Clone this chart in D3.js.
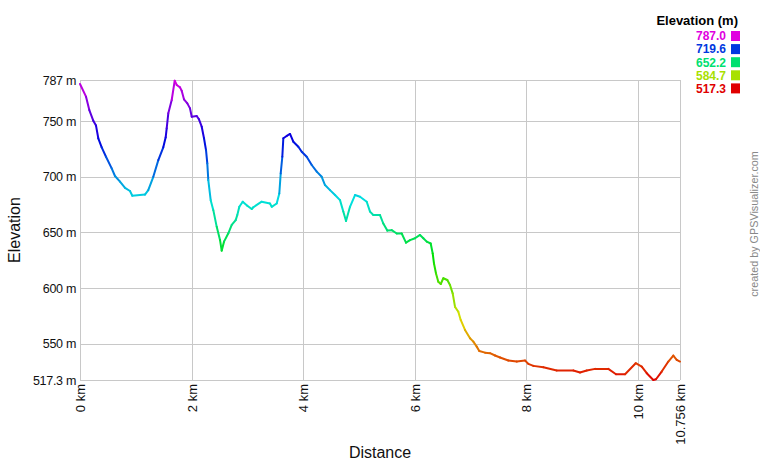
<!DOCTYPE html>
<html><head><meta charset="utf-8">
<script src="https://cdn.jsdelivr.net/npm/d3@7"></script>
<style>
html,body{margin:0;padding:0;background:#fff;}
svg{display:block;font-family:"Liberation Sans",Arial,sans-serif;}
</style></head>
<body>
<svg id="chart" width="760" height="460"></svg>
<script>
// distance (km) and elevation (m)
const distKm = [0,0.108,0.167,0.238,0.287,0.328,0.389,0.466,0.568,0.627,0.717,0.807,0.896,0.938,1.165,1.224,1.314,1.404,1.493,1.536,1.554,1.583,1.644,1.698,1.734,1.793,1.823,1.864,1.924,1.972,2.003,2.092,2.133,2.182,2.223,2.259,2.282,2.300,2.343,2.390,2.451,2.510,2.540,2.582,2.659,2.720,2.791,2.820,2.856,2.917,2.999,3.078,3.107,3.257,3.406,3.437,3.526,3.573,3.598,3.627,3.645,3.706,3.765,3.824,3.914,3.975,4.064,4.154,4.244,4.333,4.392,4.482,4.572,4.661,4.720,4.769,4.840,4.930,5.020,5.140,5.199,5.258,5.378,5.437,5.509,5.588,5.678,5.767,5.844,5.916,6.006,6.095,6.155,6.216,6.287,6.323,6.346,6.382,6.423,6.467,6.513,6.585,6.633,6.682,6.723,6.782,6.825,6.902,6.992,7.051,7.112,7.158,7.261,7.350,7.440,7.530,7.678,7.829,7.978,8.037,8.127,8.306,8.546,8.844,8.964,9.084,9.233,9.471,9.609,9.771,9.962,10.070,10.160,10.278,10.326,10.428,10.547,10.636,10.697,10.756];
const elevM = [783.4,772,760,750.4,746,734.6,726.5,718,707.6,700.7,695.6,690,687.2,683,684,688,700,715,726.5,735.5,743.6,757,769,786.4,782.5,780.4,777.4,769.6,766,761.5,754,754.6,751.6,745,734.6,724,712,697,679,670,655,643.2,633.6,641.7,649.2,656.7,661,665.6,673,677.6,674,671,672.6,677.6,676,673,676,685,703,718,734.6,736.7,738.5,731.5,727,722.5,718,710.6,704.6,700,692.6,688,683.6,679,668.7,660.3,673,683.6,682,677.6,668.7,665.6,665.6,658,651.6,652,649,649,640.8,643,644.7,647.7,644.7,641.7,640,631,622,613,605.7,603.6,608.8,607.2,602.7,595,583,578.7,571.3,562.3,554.8,551.8,547.3,543.4,541.9,541.4,539.3,537.5,534.8,533.9,534.8,531.8,530,528.8,525.8,525.8,524,525.8,527.3,527.3,522.5,522.5,532.4,529.4,523.4,517.3,518,524.9,533.9,539.3,535.4,533.9];

const yTicks = [517.3,550,600,650,700,750,787];
const yTickLabels = ["517.3 m","550 m","600 m","650 m","700 m","750 m","787 m"];
const xTicks = [0,2,4,6,8,10,10.756];
const xTickLabels = ["0 km","2 km","4 km","6 km","8 km","10 km","10.756 km"];
const legendValues = [787.0,719.6,652.2,584.7,517.3];
const legendLabels = ["787.0","719.6","652.2","584.7","517.3"];

const svg = d3.select("#chart");
const L = 80, R = 680, T = 80, B = 380;
const x = d3.scaleLinear().domain([0, 10.756]).range([L, R]);
const y = d3.scaleLinear().domain([517.3, 787]).range([B, T]);
const hue = d3.scaleLinear().domain([517.3, 787]).range([0, 300]);
const colorOf = v => d3.hsl(hue(v), 1, 0.44).formatHex();

// grid
const grid = svg.append("g").attr("stroke", "#c8c8c8").attr("stroke-width", 1).attr("shape-rendering", "crispEdges");
yTicks.forEach(v => grid.append("line").attr("x1", L).attr("x2", R).attr("y1", Math.round(y(v))+0.5).attr("y2", Math.round(y(v))+0.5));
xTicks.forEach(v => grid.append("line").attr("y1", T).attr("y2", B).attr("x1", Math.round(x(v))+0.5).attr("x2", Math.round(x(v))+0.5));

// y axis labels
const yAxis = d3.axisLeft(y).tickValues(yTicks).tickFormat((d,i) => yTickLabels[i]).tickSize(0).tickPadding(4);
const gy = svg.append("g").attr("transform", `translate(${L},0)`).call(yAxis);
gy.select(".domain").remove();
gy.selectAll("text").attr("font-size", "12.5px").attr("fill", "#111").attr("font-family", "'Liberation Sans',Arial,sans-serif").attr("letter-spacing", "-0.3px");

// x axis labels
const xAxis = d3.axisBottom(x).tickValues(xTicks).tickFormat((d,i) => xTickLabels[i]).tickSize(0).tickPadding(0);
const gx = svg.append("g").attr("transform", `translate(0,${B})`).call(xAxis);
gx.select(".domain").remove();
gx.selectAll("text")
  .attr("font-size", "13px").attr("fill", "#111").attr("font-family", "'Liberation Sans',Arial,sans-serif")
  .attr("transform", "rotate(-90)")
  .attr("text-anchor", "end")
  .attr("x", -4).attr("y", 0).attr("dy", "0.35em");

// elevation profile, coloured by elevation
const pts = distKm.map((d,i) => [d, elevM[i]]);
const line = d3.line().x(d => x(d[0])).y(d => y(d[1]));
const prof = svg.append("g").attr("fill", "none").attr("stroke-width", 2).attr("stroke-linecap", "round");
for (let i = 0; i < pts.length - 1; i++) {
  prof.append("path").attr("d", line([pts[i], pts[i+1]])).attr("stroke", colorOf((pts[i][1] + pts[i+1][1]) / 2));
}

// axis titles
svg.append("text").attr("x", 380).attr("y", 458).attr("text-anchor", "middle").attr("font-size", "16px").attr("fill", "#111").text("Distance");
svg.append("text").attr("transform", "translate(20,230) rotate(-90)").attr("text-anchor", "middle").attr("font-size", "16px").attr("fill", "#111").text("Elevation");

// credit
svg.append("text").attr("transform", "translate(758,224) rotate(-90)").attr("text-anchor", "middle").attr("font-size", "10.8px").attr("fill", "#888").text("created by GPSVisualizer.com");

// legend
svg.append("text").attr("x", 738).attr("y", 25).attr("text-anchor", "end").attr("font-size", "13px").attr("font-weight", "bold").attr("fill", "#000").text("Elevation (m)");
const lg = svg.append("g");
legendValues.forEach((v,i) => {
  const cy = 36 + i * 13.1;
  const c = colorOf(v);
  lg.append("text").attr("x", 726).attr("y", cy).attr("dy", "0.36em").attr("text-anchor", "end").attr("font-size", "12px").attr("font-weight", "bold").attr("fill", c).text(legendLabels[i]);
  lg.append("rect").attr("x", 731).attr("y", cy - 5).attr("width", 9).attr("height", 10).attr("fill", c);
});
</script>
</body></html>
